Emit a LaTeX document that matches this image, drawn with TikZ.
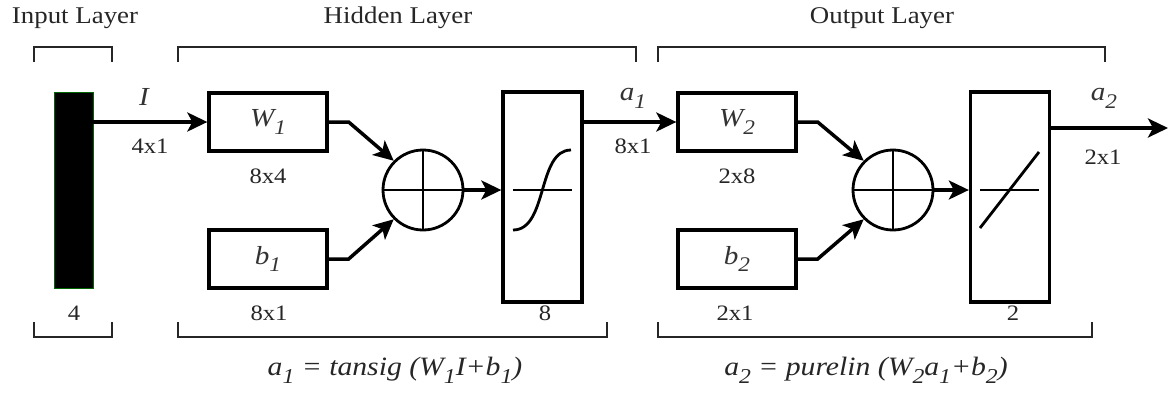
\documentclass[tikz,border=0pt]{standalone}
\usepackage{fontspec}
\setmainfont{Liberation Serif}
\usepackage{graphicx}
\usetikzlibrary{arrows.meta}
\newcommand{\sx}[1]{\scalebox{1.12}[1]{#1}}
\newcommand{\ts}[1]{\raisebox{-0.3em}{\scalebox{0.8}{#1}}}
\begin{document}
\begin{tikzpicture}[x=1pt,y=-1pt,
  tip/.style={-{Stealth[length=20pt,width=19pt,inset=5pt]}},
  boxn/.style={draw,line width=3.3pt,inner sep=0pt,minimum width=118pt,minimum height=58pt,font=\fontsize{26}{30}\selectfont\itshape,text=black!80},
  tallbox/.style={draw,line width=3.3pt,inner sep=0pt,minimum width=79pt,minimum height=210pt},
  sumn/.style={draw,circle,line width=2.8pt,inner sep=0pt,minimum size=80pt},
  arr/.style={line width=3.5pt,tip},
  br/.style={line width=1.6pt,black!85},
  title/.style={font=\fontsize{24}{28}\selectfont,text=black!85,inner sep=0pt},
  lab/.style={font=\fontsize{22}{26}\selectfont,text=black!85,inner sep=0pt},
  ilab/.style={font=\fontsize{26}{30}\selectfont\itshape,text=black!80,inner sep=0pt},
  formula/.style={font=\fontsize{26.5}{30}\selectfont\itshape,text=black!85,inner sep=0pt}]
\useasboundingbox (0,0) rectangle (1171,392);
% titles
\node[title] (tin) at (75,18) {\sx{Input Layer}};
\node[title] (thid) at (398,18) {\sx{Hidden Layer}};
\node[title] (tout) at (882,18) {\sx{Output Layer}};
% brackets top
\draw[br] (34,62) -- (34,47) -- (112,47) -- (112,62);
\draw[br] (178,62) -- (178,47) -- (636,47) -- (636,62);
\draw[br] (658,62) -- (658,47) -- (1105,47) -- (1105,62);
% brackets bottom
\draw[br] (34,322) -- (34,337) -- (112,337) -- (112,322);
\draw[br] (178,322) -- (178,337) -- (607,337) -- (607,322);
\draw[br] (658,322) -- (658,337) -- (1092,337) -- (1092,322);
% input bar
\node[draw=green!40!black,line width=0.8pt,fill=black,inner sep=0pt,minimum width=39pt,minimum height=196pt] (bar) at (73.5,190) {};
% hidden layer
\node[boxn] (W1) at (268,122) {\sx{W\ts{1}}};
\node[boxn] (b1) at (268,259) {\sx{b\ts{1}}};
\node[sumn] (sum1) at (423,190) {};
\draw[line width=2.8pt] (sum1.north) -- (sum1.south) (sum1.west) -- (sum1.east);
\node[tallbox] (sig) at (542.5,197) {};
\draw[line width=1.4pt] (513,190) -- (572,190);
\draw[line width=2.8pt] (513,230) .. controls (548,230) and (537,150) .. (571,150);
% output layer
\node[boxn] (W2) at (737,122) {\sx{W\ts{2}}};
\node[boxn] (b2) at (737,259) {\sx{b\ts{2}}};
\node[sumn] (sum2) at (893,190) {};
\draw[line width=2.8pt] (sum2.north) -- (sum2.south) (sum2.west) -- (sum2.east);
\node[tallbox] (lin) at (1010,197) {};
\draw[line width=1.4pt] (980,190) -- (1039,190);
\draw[line width=2.8pt] (980,228) -- (1039,152);
\coordinate (out) at (1168,128);
% connectors
\draw[arr] (bar.east |- W1.west) -- (W1.west);
\draw[arr] (W1.east) -- ++(20,0) -- (sum1.135);
\draw[arr] (b1.east) -- ++(20,0) -- (sum1.225);
\draw[arr] (sum1.east) -- (sum1.east -| sig.west);
\draw[arr] (sig.east |- W2.west) -- (W2.west);
\draw[arr] (W2.east) -- ++(20,0) -- (sum2.135);
\draw[arr] (b2.east) -- ++(20,0) -- (sum2.225);
\draw[arr] (sum2.east) -- (sum2.east -| lin.west);
\draw[arr] (out -| lin.east) -- (out);
% labels
\node[ilab] (lI) at (144,97) {\sx{I}};
\node[lab] (l41) at (150,146) {\sx{4x1}};
\node[lab] (l84) at (268,176) {\sx{8x4}};
\node[lab] (l81b) at (269,313) {\sx{8x1}};
\node[lab] (l4) at (74,313) {\sx{4}};
\node[lab] (l8) at (545,313) {\sx{8}};
\node[ilab] (la1) at (633,98) {\sx{a\ts{1}}};
\node[lab] (l81) at (633,146) {\sx{8x1}};
\node[lab] (l28) at (737,176) {\sx{2x8}};
\node[lab] (l21b) at (735,313) {\sx{2x1}};
\node[lab] (l2) at (1013,313) {\sx{2}};
\node[ilab] (la2) at (1104,98) {\sx{a\ts{2}}};
\node[lab] (l21) at (1103,157) {\sx{2x1}};
% formulas
\node[formula] (f1) at (395,370) {\sx{a\ts{1} = tansig (W\ts{1}I+b\ts{1})}};
\node[formula] (f2) at (866,370) {\sx{a\ts{2} = purelin (W\ts{2}a\ts{1}+b\ts{2})}};
\end{tikzpicture}
\end{document}
